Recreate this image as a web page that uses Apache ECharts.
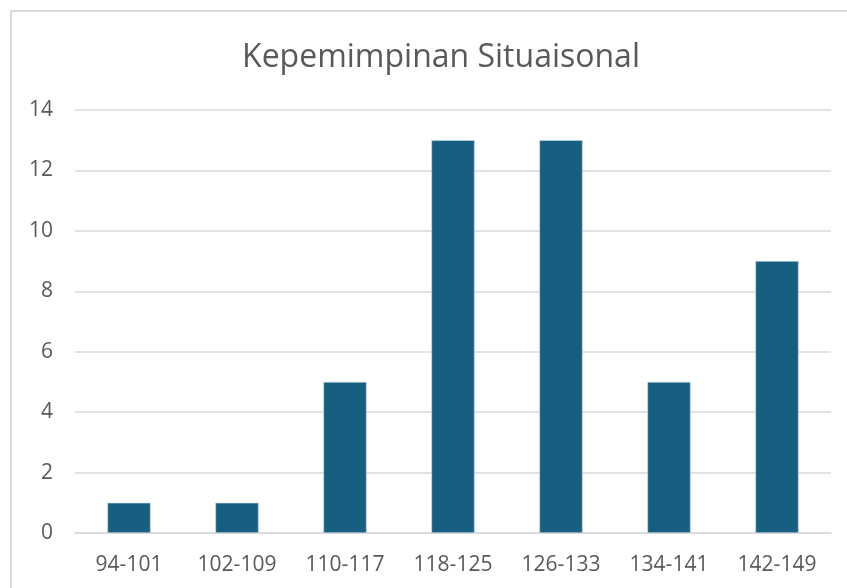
<!DOCTYPE html>
<html>
<head>
<meta charset="utf-8">
<script src="https://cdn.jsdelivr.net/npm/echarts@6/dist/echarts.min.js"></script>
<style>
  html, body { margin: 0; padding: 0; background: #fff; }
  #frame { position: absolute; left: 10px; top: 10px; width: 860px; height: 600px;
           border: 2px solid #d9d9d9; box-sizing: border-box; background: #fff; }
  #main { position: absolute; left: 0; top: 0; width: 847px; height: 588px; }
</style>
</head>
<body>
<div id="frame"></div>
<div id="main"></div>
<script>
const categories = ['94-101', '102-109', '110-117', '118-125', '126-133', '134-141', '142-149']
const counts = [1, 1, 5, 13, 13, 5, 9]
const yTicks = { min: 0, max: 14, interval: 2 }

const chart = echarts.init(document.getElementById('main'))
const font = '"Open Sans", sans-serif'

chart.setOption({
  title: {
    text: 'Kepemimpinan Situaisonal',
    left: 436,
    textAlign: 'center',
    top: 37,
    textStyle: { fontFamily: font, fontSize: 32, fontWeight: 'normal', color: '#595959' },
  },
  grid: { left: 75, right: 16, top: 110, bottom: 55, containLabel: false },
  xAxis: {
    type: 'category',
    data: categories,
    axisLine: { show: true, lineStyle: { color: '#d9d9d9', width: 1.5 } },
    axisTick: { show: false },
    axisLabel: { fontFamily: font, fontSize: 21, color: '#595959', margin: 22 },
  },
  yAxis: {
    type: 'value',
    min: yTicks.min,
    max: yTicks.max,
    interval: yTicks.interval,
    axisLine: { show: false },
    axisTick: { show: false },
    splitLine: { lineStyle: { color: '#d9d9d9', width: 1.5 } },
    axisLabel: { fontFamily: font, fontSize: 21, color: '#595959', margin: 22 },
  },
  series: [{
    type: 'bar',
    data: counts,
    barWidth: '40%',
    itemStyle: { color: '#175e80', borderColor: '#c9dbe4', borderWidth: 0.6 },
    animation: false,
  }],
  animation: false,
})
</script>
</body>
</html>
